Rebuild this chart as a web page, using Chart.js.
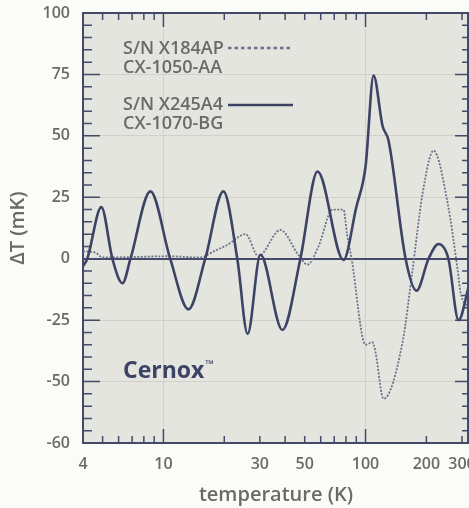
<!DOCTYPE html>
<html>
<head>
<meta charset="utf-8">
<script src="https://cdn.jsdelivr.net/npm/chart.js@4.4.0/dist/chart.umd.min.js"></script>
<style>
  html, body { margin: 0; padding: 0; background: #fbfbf8; }
  #wrap { width: 469px; height: 508px; position: relative; }
</style>
</head>
<body>
<div id="wrap"><canvas id="chart"></canvas></div>
<script>
// S/N X184AP (dotted) - temperature in K, deviation in mK
var tempsA = [4.0, 4.6, 5.0, 8.0, 10.5, 15.2, 17.7, 20.7, 25.5, 29.5, 37.9, 46.5, 51.6, 58.5, 68.7, 77.8, 81.0, 85.3,
  100, 108.3, 112, 122.8, 152.4, 170.9, 191.6, 217, 254.8, 285.4, 295, 325];
var dTA = [3, 2.5, 0.5, 0.8, 1, 0.5, 3, 5.6, 10, 1, 11.7, 1.6, -2.4, 5, 20, 20, 10, 0,
  -35, -34, -38, -57, -34, -4.4, 26.6, 44, 22.6, -4.4, -13.7, -20];

// S/N X245A4 (solid)
var tempsB = [4.0, 4.2, 4.93, 5.59, 6.27, 6.87, 8.62, 10.8, 13.3, 16.1, 19.8, 23.2, 26.1, 30.2, 38.8, 47.6, 57.9,
  77.8, 90, 100, 109.6, 121.4, 130, 157.8, 178.8, 205, 229.6, 257, 288.5, 325];
var dTB = [-3, 0, 21, 0, -10, 0, 27.4, 0, -20.6, 0, 27.4, 0, -30.6, 1.6, -29, 0, 35.5,
  -0.5, 21, 37.5, 74.5, 54, 48, 0, -13, 0, 6, 0, -25, -11];

var labelA = ['S/N X184AP', 'CX-1050-AA'];
var labelB = ['S/N X245A4', 'CX-1070-BG'];

var xTickValues = [4, 10, 30, 50, 100, 200, 300];
var xMajorMarks = [10, 100];
var xMinorMarks = [5, 6, 7, 8, 9, 20, 30, 40, 50, 60, 70, 80, 90, 200, 300];
var yTickValues = [-75, -50, -25, 0, 25, 50, 75, 100];
var yTickLabels = ['-60', '-50', '-25', '0', '25', '50', '75', '100'];

var axisColor = '#434a6a';
var solidColor = '#3c4365';
var dottedColor = '#6c7189';
var textColor = '#6a6a6a';
var plotBg = '#e4e5df';
var gridColor = '#d0d1cb';
var fontFamily = "'Open Sans', 'DejaVu Sans', sans-serif";

function toPoints(xs, ys) {
  return xs.map(function (x, i) { return { x: x, y: ys[i] }; });
}

var framePlugin = {
  id: 'frame',
  beforeDraw: function (chart) {
    var a = chart.chartArea, ctx = chart.ctx;
    ctx.save();
    ctx.fillStyle = plotBg;
    ctx.fillRect(a.left, a.top, a.right - a.left, a.bottom - a.top);
    ctx.restore();
  },
  afterDatasetsDraw: function (chart) {
    var a = chart.chartArea, ctx = chart.ctx;
    var xs = chart.scales.x, ys = chart.scales.y;
    ctx.save();
    ctx.strokeStyle = axisColor;
    ctx.lineWidth = 1.5;
    ctx.beginPath();
    function mark(x1, y1, x2, y2) { ctx.moveTo(x1, y1); ctx.lineTo(x2, y2); }
    xMinorMarks.forEach(function (v) {
      var px = xs.getPixelForValue(v);
      mark(px, a.bottom, px, a.bottom - 7);
      mark(px, a.top, px, a.top + 7);
    });
    xMajorMarks.forEach(function (v) {
      var px = xs.getPixelForValue(v);
      mark(px, a.bottom, px, a.bottom - 14);
      mark(px, a.top, px, a.top + 14);
    });
    for (var v = -75; v <= 100; v += 5) {
      var py = ys.getPixelForValue(v);
      var major = v % 25 === 0;
      mark(a.left, py, a.left + (major ? 17 : 9), py);
      mark(a.right, py, a.right - (major ? 14 : 7), py);
    }
    ctx.stroke();
    // top and right frame
    ctx.lineWidth = 2;
    ctx.beginPath();
    mark(a.left, a.top, a.right, a.top);
    mark(a.right - 1, a.top, a.right - 1, a.bottom);
    ctx.stroke();

    // legend: two-line labels with a sample line to the right
    var items = [
      { lines: labelA, ds: chart.data.datasets[1], top: a.top + 35.5, sampleY: a.top + 35, dash: [3.5, 3] },
      { lines: labelB, ds: chart.data.datasets[0], top: a.top + 91.5, sampleY: a.top + 92, dash: [] }
    ];
    ctx.font = '600 18px ' + fontFamily;
    ctx.fillStyle = textColor;
    ctx.textBaseline = 'middle';
    ctx.textAlign = 'left';
    items.forEach(function (it) {
      ctx.fillText(it.lines[0], a.left + 40, it.top);
      ctx.fillText(it.lines[1], a.left + 40, it.top + 19);
      ctx.save();
      ctx.strokeStyle = it.ds.borderColor;
      ctx.lineWidth = 2.6;
      ctx.setLineDash(it.dash);
      ctx.beginPath();
      ctx.moveTo(a.left + 145, it.sampleY);
      ctx.lineTo(a.left + 210, it.sampleY);
      ctx.stroke();
      ctx.restore();
    });

    // product name
    var cx = a.left + 40, cy = ys.getPixelForValue(-46);
    ctx.fillStyle = solidColor;
    ctx.font = 'bold 23px ' + fontFamily;
    ctx.fillText('Cernox', cx, cy);
    var w = ctx.measureText('Cernox').width;
    ctx.font = 'bold 11px ' + fontFamily;
    ctx.fillText('\u2122', cx + w + 1, cy - 7);
    ctx.restore();
  }
};

new Chart(document.getElementById('chart').getContext('2d'), {
  type: 'line',
  data: {
    datasets: [{
      label: labelB.join(' '),
      data: toPoints(tempsB, dTB),
      borderColor: solidColor,
      borderWidth: 2.6,
      fill: false
    }, {
      label: labelA.join(' '),
      data: toPoints(tempsA, dTA),
      borderColor: dottedColor,
      borderWidth: 1.8,
      borderDash: [2, 1.5],
      fill: false
    }]
  },
  options: {
    responsive: true,
    maintainAspectRatio: false,
    animation: false,
    layout: { padding: { top: 13, right: 0, left: 0, bottom: 0 } },
    elements: {
      point: { radius: 0 },
      line: { cubicInterpolationMode: 'monotone' }
    },
    plugins: { legend: { display: false }, tooltip: { enabled: false } },
    scales: {
      x: {
        type: 'logarithmic',
        min: 4,
        max: 325,
        afterBuildTicks: function (s) { s.ticks = xTickValues.map(function (v) { return { value: v }; }); },
        afterFit: function (s) { s.height = 65; s.paddingLeft = 0; s.paddingRight = 0; },
        ticks: {
          autoSkip: false, maxRotation: 0, padding: 12, color: textColor,
          font: { family: fontFamily, size: 16, weight: '600' },
          callback: function (v) { return String(v); }
        },
        grid: {
          drawTicks: false,
          color: function (c) { return (c.tick && xMajorMarks.indexOf(c.tick.value) >= 0) ? gridColor : 'transparent'; },
          lineWidth: 1
        },
        border: { display: true, color: axisColor, width: 2 },
        title: {
          display: true, text: 'temperature (K)', color: textColor,
          font: { family: fontFamily, size: 20, weight: '600' },
          padding: { top: 0, bottom: 1 }
        }
      },
      y: {
        min: -75,
        max: 100,
        afterBuildTicks: function (s) { s.ticks = yTickValues.map(function (v) { return { value: v }; }); },
        afterFit: function (s) { s.width = 83; s.paddingTop = 0; s.paddingBottom = 0; },
        ticks: {
          padding: 13, color: textColor,
          font: { family: fontFamily, size: 16, weight: '600' },
          callback: function (v) { return yTickLabels[yTickValues.indexOf(v)]; }
        },
        grid: {
          drawTicks: false,
          color: function (c) {
            if (!c.tick) return 'transparent';
            if (c.tick.value === 0) return axisColor;
            if (c.tick.value === -75 || c.tick.value === 100) return 'transparent';
            return gridColor;
          },
          lineWidth: function (c) { return (c.tick && c.tick.value === 0) ? 2 : 1; }
        },
        border: { display: true, color: axisColor, width: 2 },
        title: {
          display: true, text: '\u0394T (mK)', color: textColor,
          font: { family: fontFamily, size: 20, weight: '600' },
          padding: { top: 6, bottom: 0 }
        }
      }
    }
  },
  plugins: [framePlugin]
});
</script>
</body>
</html>
